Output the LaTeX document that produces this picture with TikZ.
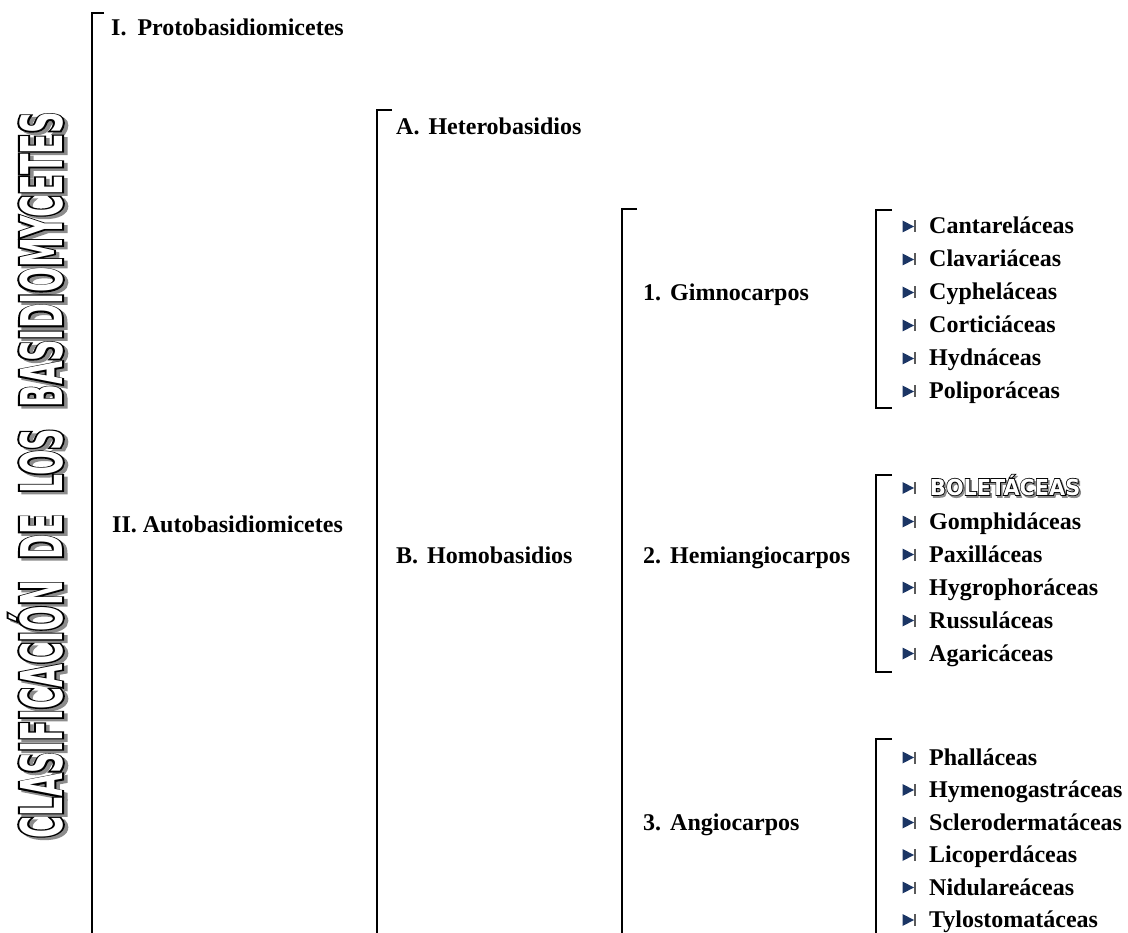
\documentclass[tikz,border=0pt]{standalone}
\usepackage{fontspec}
\usepackage{graphicx}
\setmainfont{Liberation Serif}
% condensed display face for the outlined headings
\newfontfamily\artfill{DejaVu Sans Condensed}
\newfontfamily\artedge{DejaVu Sans Condensed}[BoldFeatures={FakeBold=7}]
\definecolor{bulletblue}{HTML}{1B3564}
\definecolor{bulletbar}{HTML}{5A5A5A}
\definecolor{artshadow}{HTML}{8C8C8C}

\tikzset{
  bracket/.style={draw=black, line width=1.6pt},
  label/.style={anchor=base west, inner sep=0pt, font=\fontsize{24}{28}\selectfont\bfseries},
  family/.style={label},
}
% outlined display text: shadow, black edge, white face
\newcommand\artshadowtext[3]{\resizebox{#1}{\height}{\fontsize{#2}{#2}\selectfont\artedge\bfseries #3}}
\newcommand\artfacetext[3]{\resizebox{#1}{\height}{\fontsize{#2}{#2}\selectfont\artfill\bfseries #3}}
% list bullet: navy triangle with a grey bar
\newcommand\listbullet[1]{%
  \fill[bulletblue] (902.5,#1-6) -- (914,#1) -- (902.5,#1+6) -- cycle;
  \draw[bulletbar, line width=1.8pt] (914.6,#1-6) -- (914.6,#1+6);}

\begin{document}
\begin{tikzpicture}[x=1pt, y=-1pt]
\useasboundingbox (0,0) rectangle (1128,933);

% vertical title
\node[anchor=base, rotate=90, inner sep=0pt, text=artshadow] (title-shadow) at (65.5,477.5)
  {\artshadowtext{726pt}{57.6}{CLASIFICACIÓN\ \ DE\ \ LOS\ \ BASIDIOMYCETES}};
\node[anchor=base, rotate=90, inner sep=0pt, text=black] (title-edge) at (62,475)
  {\artshadowtext{726pt}{57.6}{CLASIFICACIÓN\ \ DE\ \ LOS\ \ BASIDIOMYCETES}};
\node[anchor=base, rotate=90, inner sep=0pt, text=white] (title) at (62,475)
  {\artfacetext{726pt}{57.6}{CLASIFICACIÓN\ \ DE\ \ LOS\ \ BASIDIOMYCETES}};

% brackets
\coordinate (b1-top) at (92,13);
\coordinate (b1-end) at (92,933);
\draw[bracket] (104,13) -- (b1-top) -- (b1-end);
\coordinate (b2-top) at (377,110);
\coordinate (b2-end) at (377,933);
\draw[bracket] (392,110) -- (b2-top) -- (b2-end);
\coordinate (b3-top) at (622,209);
\coordinate (b3-end) at (622,933);
\draw[bracket] (637,209) -- (b3-top) -- (b3-end);
\draw[bracket] (892,210) -- (876,210) -- (876,408) -- (892,408);
\draw[bracket] (892,475) -- (876,475) -- (876,672) -- (892,672);
\draw[bracket] (892,739) -- (876,739) -- (876,933);

% ranks
\node[label] (proto) at (111,36) {I.\hspace{11pt}Protobasidiomicetes};
\node[label] (auto) at (112,532) {II. Autobasidiomicetes};
\node[label] (hetero) at (396,135) {A.\hspace{9pt}Heterobasidios};
\node[label] (homo) at (396,563) {B.\hspace{9pt}Homobasidios};
\node[label] (gimno) at (643,301) {1.\hspace{9pt}Gimnocarpos};
\node[label] (hemi) at (643,563) {2.\hspace{9pt}Hemiangiocarpos};
\node[label] (angio) at (643,830) {3.\hspace{9pt}Angiocarpos};

% families
\foreach \name/\yy [count=\i] in {Cantareláceas/234, Clavariáceas/267, Cypheláceas/300,
    Corticiáceas/333, Hydnáceas/366, Poliporáceas/399,
    Gomphidáceas/529, Paxilláceas/562, Hygrophoráceas/595, Russuláceas/628,
    Agaricáceas/661,
    Phalláceas/765, Hymenogastráceas/797.5, Sclerodermatáceas/830,
    Licoperdáceas/862.5, Nidulareáceas/895, Tylostomatáceas/927.5}{
  \node[family] (fam-\i) at (929,\yy) {\name};
  \listbullet{\yy-7.5}
}

% outlined family heading
\listbullet{488}
\node[anchor=base west, inner sep=0pt, text=artshadow] (bolet-shadow) at (931.5,497)
  {\artshadowtext{150pt}{22}{BOLETÁCEAS}};
\node[anchor=base west, inner sep=0pt, text=black] (bolet-edge) at (930,495)
  {\artshadowtext{150pt}{22}{BOLETÁCEAS}};
\node[anchor=base west, inner sep=0pt, text=white] (bolet) at (930,495)
  {\artfacetext{150pt}{22}{BOLETÁCEAS}};
\end{tikzpicture}
\end{document}
